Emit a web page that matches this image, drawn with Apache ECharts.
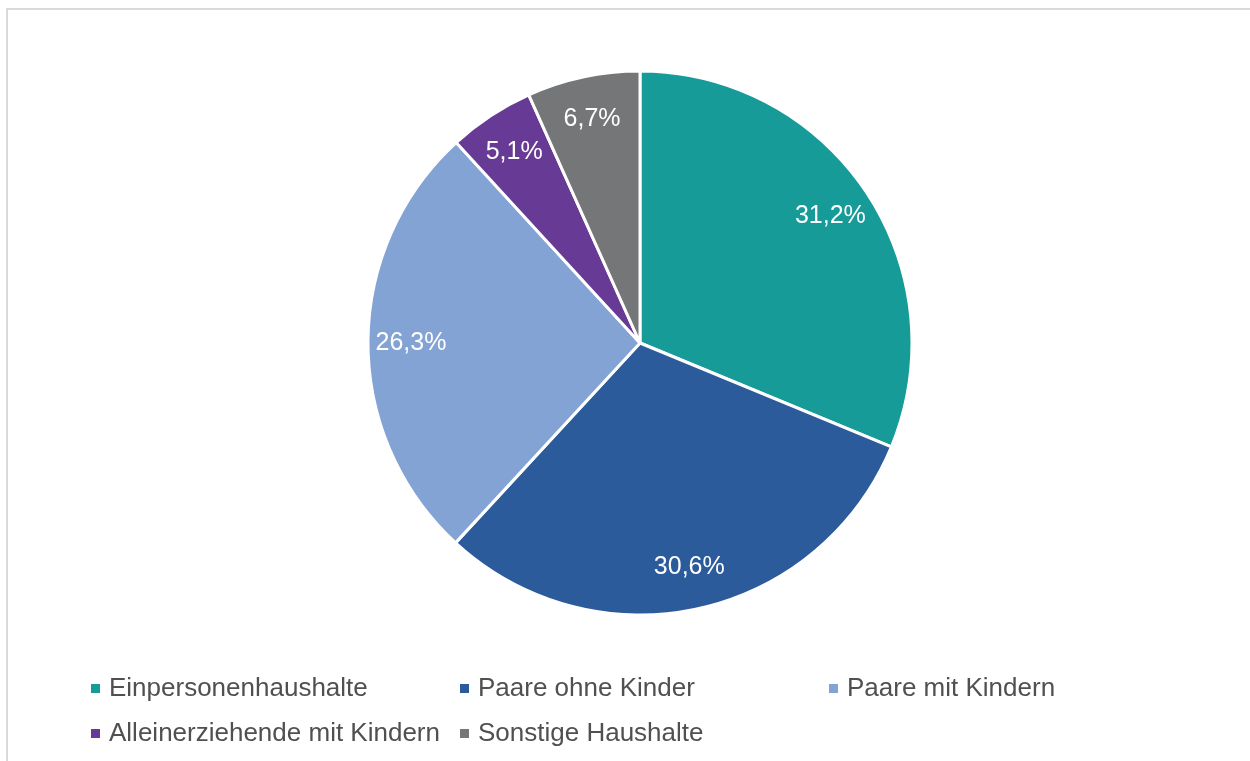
<!DOCTYPE html>
<html>
<head>
<meta charset="utf-8">
<script src="https://cdn.jsdelivr.net/npm/echarts@6/dist/echarts.min.js"></script>
<style>
	html, body { margin: 0; padding: 0; background: #fff; }
	#chart { width: 1250px; height: 761px; }
</style>
</head>
<body>
<div id="chart"></div>
<script>
var categories = ['Einpersonenhaushalte', 'Paare ohne Kinder', 'Paare mit Kindern', 'Alleinerziehende mit Kindern', 'Sonstige Haushalte'];
var shares = [31.2, 30.6, 26.3, 5.1, 6.7];
var colors = ['#179b98', '#2c5b9b', '#82a3d3', '#673a96', '#757678'];

var FONT = "'Liberation Sans', Arial, sans-serif";

function buildData(transparent) {
	var out = [];
	for (var i = 0; i < categories.length; i++) {
		out.push({
			name : categories[i],
			value : shares[i],
			itemStyle : { color : transparent ? 'rgba(0,0,0,0)' : colors[i] }
		});
	}
	return out;
}

var chart = echarts.init(document.getElementById('chart'), null, { renderer : 'canvas' });

chart.setOption({
	animation : false,
	color : colors,
	graphic : [ {
		type : 'rect',
		shape : { x : 7, y : 9, width : 1300, height : 800 },
		style : { fill : 'none', stroke : '#d9d9d9', lineWidth : 2 },
		silent : true
	} ],
	legend : {
		data : categories,
		left : 91,
		top : 671,
		width : 1120,
		padding : 0,
		itemGap : 10,
		itemWidth : 9,
		itemHeight : 9,
		icon : 'rect',
		itemStyle : { borderWidth : 0 },
		textStyle : {
			fontFamily : FONT,
			fontSize : 26,
			color : '#505050',
			width : 341,
			lineHeight : 35,
			padding : [ 0, 0, 0, 4 ]
		}
	},
	series : [ {
		// Tortenstücke
		type : 'pie',
		center : [ 640, 343 ],
		radius : [ 0, 272 ],
		startAngle : 90,
		clockwise : true,
		label : { show : false },
		labelLine : { show : false },
		itemStyle : { borderColor : '#fff', borderWidth : 3 },
		emphasis : { disabled : true },
		data : buildData(false)
	}, {
		// nur Beschriftungen, weiter außen
		type : 'pie',
		center : [ 640, 343 ],
		radius : [ 180, 272 ],
		startAngle : 90,
		clockwise : true,
		silent : true,
		label : {
			show : true,
			position : 'inside',
			fontFamily : FONT,
			fontSize : 25,
			color : '#fff',
			formatter : function (p) {
				return p.value.toFixed(1).replace('.', ',') + '%';
			}
		},
		labelLine : { show : false },
		emphasis : { disabled : true },
		data : buildData(true)
	} ]
});
</script>
</body>
</html>
